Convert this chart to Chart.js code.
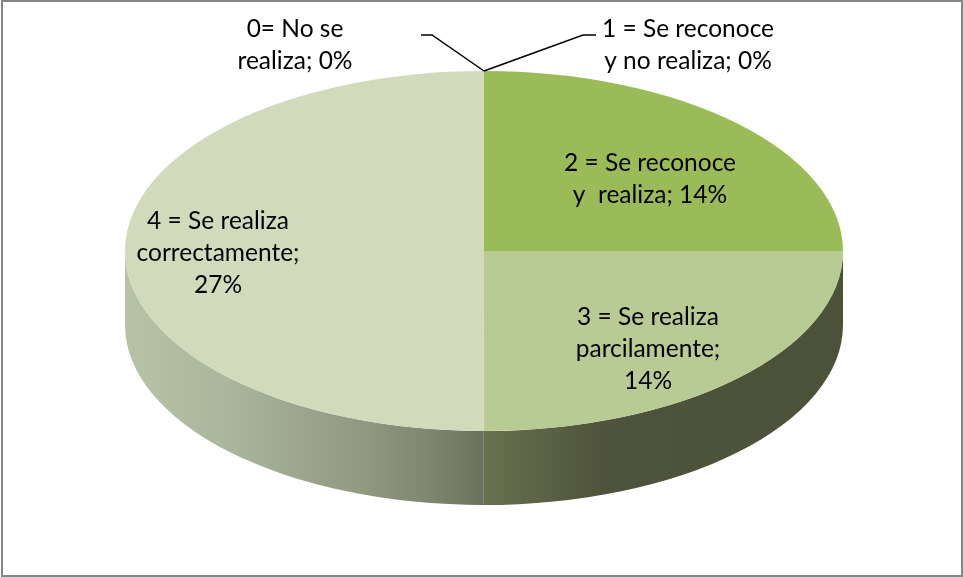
<!DOCTYPE html>
<html>
<head>
<meta charset="utf-8">
<title>Pie</title>
<script src="https://cdn.jsdelivr.net/npm/chart.js@4"></script>
<style>
  html, body { margin: 0; padding: 0; background: #fff; overflow: hidden; }
  canvas { display: block; }
</style>
</head>
<body>
<canvas id="chart1" width="963" height="577"></canvas>
<script>
var categories = ['0= No se realiza', '1 = Se reconoce y no realiza', '2 = Se reconoce y  realiza', '3 = Se realiza parcilamente', '4 = Se realiza correctamente']
var values = [0, 0, 13.64, 13.64, 27.27]
var percents = ['0%', '0%', '14%', '14%', '27%']
var topColors = ['#4f81bd', '#c0504d', '#9bbb59', '#b9cb94', '#d1dbbc']

var labelLines = [
  ['0= No se', 'realiza; ' + percents[0]],
  ['1 = Se reconoce', 'y no realiza; ' + percents[1]],
  ['2 = Se reconoce', 'y  realiza; ' + percents[2]],
  ['3 = Se realiza', 'parcilamente;', percents[3]],
  ['4 = Se realiza', 'correctamente;', percents[4]]
]

// where the labels sit, center x and y of the first line
var labelPlaces = [[295, 29], [688, 29], [650, 163], [648, 317], [218, 221]]
var leaders = [[[421, 35], [432, 35], [484, 71]], [[596, 35], [583, 35], [484, 71]]]

var squash = 180 / 359
var depth = 74

function wallGradient(ctx, index) {
  var g
  if (index == 3) {
    g = ctx.createLinearGradient(484, 0, 843, 0)
    g.addColorStop(0, '#69714f')
    g.addColorStop(0.33, '#4e533b')
    g.addColorStop(1, '#4c5239')
  } else {
    g = ctx.createLinearGradient(125, 0, 484, 0)
    g.addColorStop(0, '#b8c2a6')
    g.addColorStop(0.3, '#aab59b')
    g.addColorStop(0.67, '#90987f')
    g.addColorStop(0.85, '#7f856e')
    g.addColorStop(1, '#6c715b')
  }
  return g
}

// side wall of the pie, follows the slice angles
function drawWalls(chart) {
  var ctx = chart.ctx
  chart.getDatasetMeta(0).data.forEach(function(arc, i) {
    var p = arc.getProps(['x', 'y', 'startAngle', 'endAngle', 'outerRadius'], true)
    var a0 = Math.max(p.startAngle, 0)
    var a1 = Math.min(p.endAngle, Math.PI)
    if (a1 <= a0) return
    var rx = p.outerRadius
    var ry = p.outerRadius * squash
    ctx.beginPath()
    ctx.ellipse(p.x, p.y, rx, ry, 0, a0, a1)
    ctx.ellipse(p.x, p.y + depth, rx, ry, 0, a1, a0, true)
    ctx.closePath()
    ctx.fillStyle = wallGradient(ctx, i)
    ctx.fill()
  })
}

var pie3d = {
  id: 'pie3d',
  beforeDraw: function(chart) {
    var ctx = chart.ctx
    ctx.save()
    ctx.strokeStyle = '#868686'
    ctx.lineWidth = 2
    ctx.strokeRect(2, 1, 960, 575)
    ctx.restore()
  },
  beforeDatasetsDraw: function(chart) {
    var ctx = chart.ctx
    drawWalls(chart)
    var c = chart.getDatasetMeta(0).data[0]
    ctx.save()
    ctx.translate(c.x, c.y)
    ctx.scale(1, squash)
    ctx.translate(-c.x, -c.y)
  },
  afterDatasetsDraw: function(chart) {
    chart.ctx.restore()
  },
  afterDraw: function(chart) {
    var ctx = chart.ctx
    ctx.save()
    ctx.strokeStyle = '#000'
    ctx.lineWidth = 1.5
    leaders.forEach(function(pts) {
      ctx.beginPath()
      pts.forEach(function(pt, i) {
        if (i == 0) ctx.moveTo(pt[0], pt[1])
        else ctx.lineTo(pt[0], pt[1])
      })
      ctx.stroke()
    })
    ctx.fillStyle = '#000'
    ctx.font = '24.5px Lato'
    ctx.textAlign = 'center'
    ctx.textBaseline = 'middle'
    labelLines.forEach(function(lines, i) {
      lines.forEach(function(line, j) {
        ctx.fillText(line, labelPlaces[i][0], labelPlaces[i][1] + j * 32)
      })
    })
    ctx.restore()
  }
}

var myChart = new Chart(document.getElementById('chart1').getContext('2d'), {
  type: 'pie',
  data: {
    labels: categories,
    datasets: [{
      data: values,
      backgroundColor: topColors,
      borderWidth: 0
    }]
  },
  options: {
    responsive: false,
    animation: false,
    radius: 359,
    layout: { padding: { left: 5, right: 0, top: 0, bottom: 75 } },
    plugins: {
      legend: { display: false },
      tooltip: { enabled: false }
    }
  },
  plugins: [pie3d]
})
</script>
</body>
</html>
